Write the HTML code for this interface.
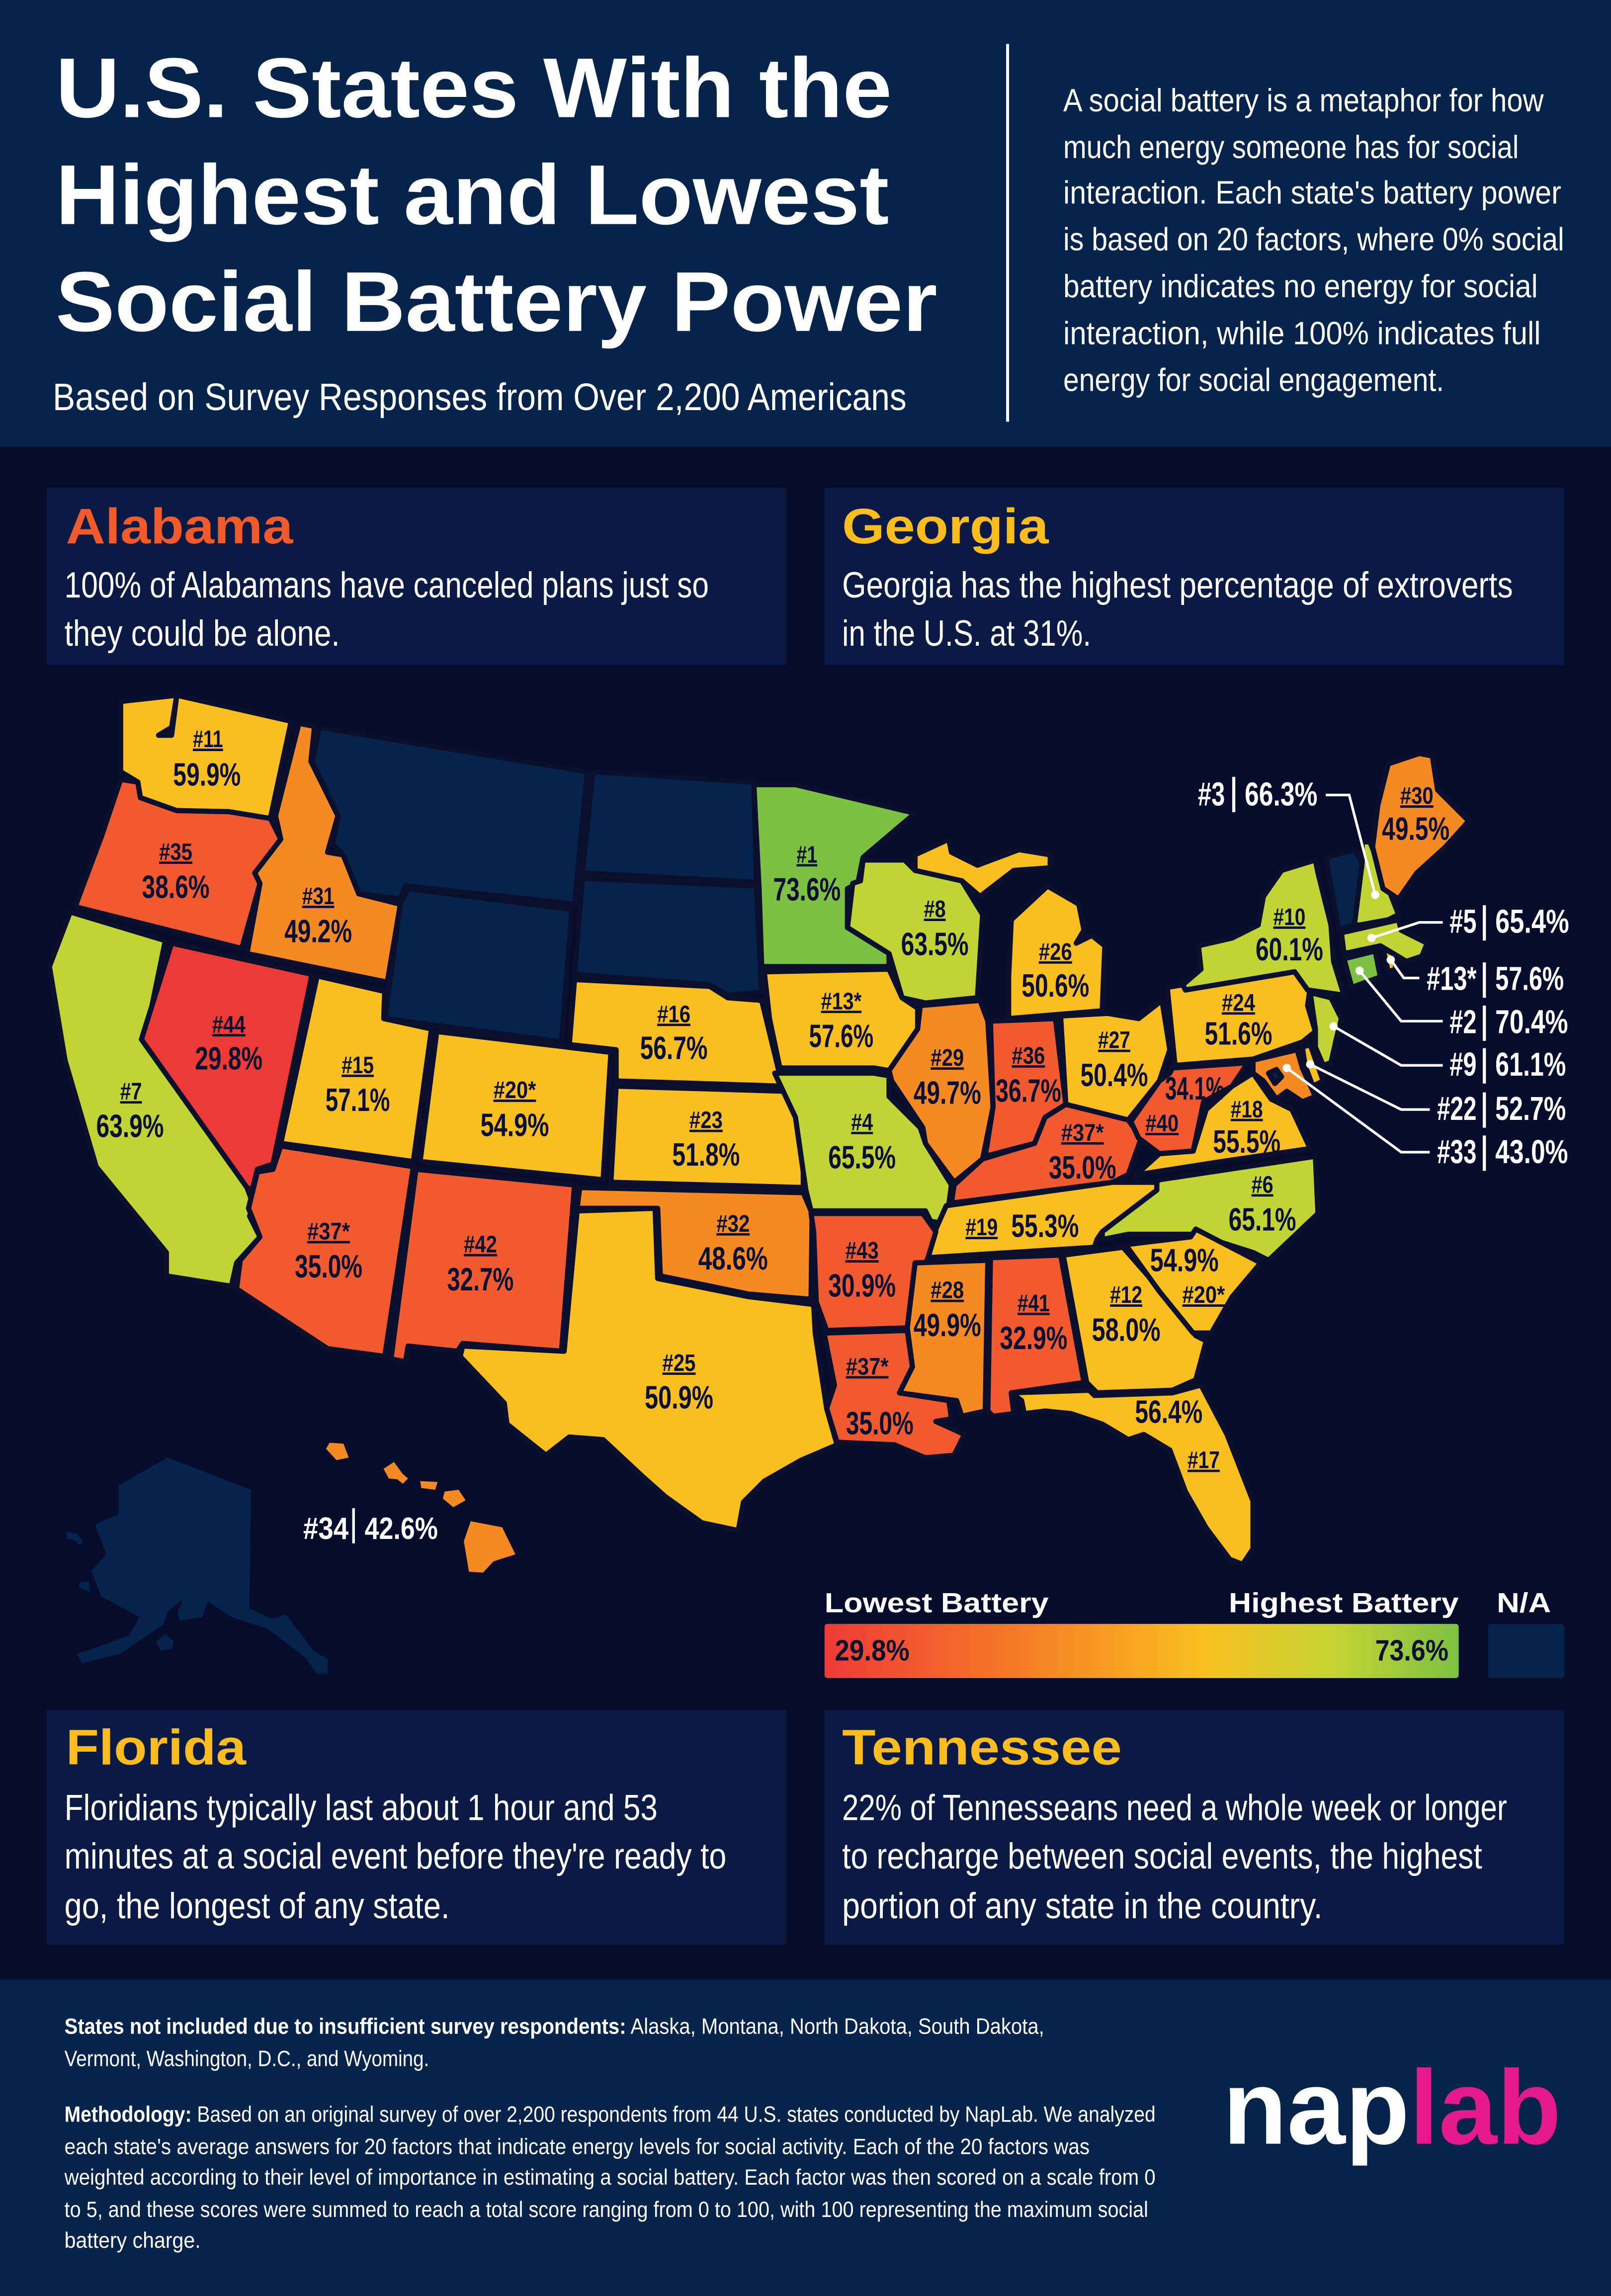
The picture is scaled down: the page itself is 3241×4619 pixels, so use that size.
<!DOCTYPE html>
<html><head><meta charset="utf-8"><style>
html,body{margin:0;padding:0;background:#050c2c;}
svg{display:block;}
.c{font-family:"Liberation Sans Narrow","Liberation Sans",sans-serif;}
.b{font-family:"Liberation Sans",sans-serif;font-weight:bold;}
.st polygon{stroke:#0a0f2b;stroke-width:10;stroke-linejoin:round;}
.lb{font-family:"Liberation Sans Narrow","Liberation Sans",sans-serif;font-weight:bold;fill:#0b1030;text-anchor:middle;}
.rk{font-size:46px;text-decoration:underline;}
.pc{font-size:62px;}
.wl{font-family:"Liberation Sans Narrow","Liberation Sans",sans-serif;font-weight:bold;fill:#fff;font-size:64px;}
.ln{stroke:#fff;stroke-width:5;fill:none;}
</style></head><body>
<svg width="3241" height="4619" viewBox="0 0 1100 1568" preserveAspectRatio="none" xmlns="http://www.w3.org/2000/svg">
<defs><linearGradient id="g" x1="0" x2="1" y1="0" y2="0">
<stop offset="0" stop-color="#ee3a36"/><stop offset="0.3" stop-color="#f57a26"/><stop offset="0.6" stop-color="#f9c01f"/><stop offset="0.8" stop-color="#c6d432"/><stop offset="1" stop-color="#7dc142"/></linearGradient></defs>
<rect x="0" y="0" width="1100" height="1568" fill="#050c2c"/>
<rect x="0" y="0" width="1100" height="305" fill="#05234b"/>
<text class="b" fill="#fff" font-size="58" x="38" y="80" textLength="571" lengthAdjust="spacingAndGlyphs">U.S. States With the</text>
<text class="b" fill="#fff" font-size="58" x="38" y="153" textLength="569" lengthAdjust="spacingAndGlyphs">Highest and Lowest</text>
<text class="b" fill="#fff" font-size="58" x="38" y="226" textLength="602" lengthAdjust="spacingAndGlyphs">Social Battery Power</text>
<text class="c" fill="#fff" font-size="26" x="36" y="280" textLength="583" lengthAdjust="spacingAndGlyphs">Based on Survey Responses from Over 2,200 Americans</text>
<rect x="687" y="30" width="2" height="258" fill="#fff"/>
<g class="c" fill="#fff" font-size="22">
<text x="726" y="76" textLength="328" lengthAdjust="spacingAndGlyphs">A social battery is a metaphor for how</text>
<text x="726" y="108" textLength="311" lengthAdjust="spacingAndGlyphs">much energy someone has for social</text>
<text x="726" y="139" textLength="340" lengthAdjust="spacingAndGlyphs">interaction. Each state's battery power</text>
<text x="726" y="171" textLength="342" lengthAdjust="spacingAndGlyphs">is based on 20 factors, where 0% social</text>
<text x="726" y="203" textLength="324" lengthAdjust="spacingAndGlyphs">battery indicates no energy for social</text>
<text x="726" y="235" textLength="326" lengthAdjust="spacingAndGlyphs">interaction, while 100% indicates full</text>
<text x="726" y="267" textLength="260" lengthAdjust="spacingAndGlyphs">energy for social engagement.</text>
</g>
<rect x="32" y="333" width="505" height="121" fill="#0b1a45"/>
<rect x="563" y="333" width="505" height="121" fill="#0b1a45"/>
<text class="b" fill="#f15a2b" font-size="34" x="45" y="371" textLength="155" lengthAdjust="spacingAndGlyphs">Alabama</text>
<text class="b" fill="#fbbd1d" font-size="34" x="575" y="371" textLength="141" lengthAdjust="spacingAndGlyphs">Georgia</text>
<g class="c" fill="#fff" font-size="25">
<text x="44" y="408" textLength="440" lengthAdjust="spacingAndGlyphs">100% of Alabamans have canceled plans just so</text>
<text x="44" y="441" textLength="188" lengthAdjust="spacingAndGlyphs">they could be alone.</text>
<text x="575" y="408" textLength="458" lengthAdjust="spacingAndGlyphs">Georgia has the highest percentage of extroverts</text>
<text x="575" y="441" textLength="170" lengthAdjust="spacingAndGlyphs">in the U.S. at 31%.</text>
</g>

<!-- Alaska & Hawaii -->
<polygon fill="#05234b" points="114.3,995.4 171.4,1017.4 170.2,1098.4 185.7,1105.6 195.2,1102.6 214.3,1127.6 223.8,1133 223.8,1143.1 216.7,1143.1 208.3,1131.8 183.3,1112.7 158.3,1104.4 141.7,1093.6 138.1,1104.4 122.6,1106.7 121.4,1100.8 125,1091.9 114.3,1100.8 111.9,1109.1 82.1,1129.4 56,1135.9 52.4,1129.4 64.3,1125.8 88.1,1116.9 95.2,1104.4 69,1090.1 62.4,1072.8 72.6,1061.5 64.8,1041.2 81,1034.1 81,1014.4"/>
<polygon fill="#05234b" points="45.5,1046 52.5,1047.5 57,1053 54,1055 50.5,1051.5 45.5,1051"/>
<polygon fill="#05234b" points="54,1081 60.5,1080 61.5,1087 58,1086 54,1084"/>
<polygon fill="#05234b" points="113,1116 118.5,1121 117.5,1126 109.5,1127 106.5,1121"/>
<g fill="#f68a22">
<polygon points="321.4,1038.9 342.9,1043 351.9,1061.5 336.9,1066.3 329.8,1074 320.2,1073.4 316.7,1052.6"/>
<polygon points="303.6,1018.6 313.1,1017.4 317.9,1024.6 309.5,1029.3 302.4,1023.4"/>
<polygon points="286.9,1011.5 298.8,1012.1 297.1,1017.4 287.6,1016.2"/>
<polygon points="269,998.4 275,1006.7 278.6,1009.7 275,1013.3 271.4,1010.3 265.5,1009.7 261.9,1003.1"/>
<polygon points="225,985.3 234.5,985.9 238.1,995.4 229.8,997.2 222.6,989.4"/>
</g>
<text class="wl" style="font-size:21px" x="238" y="1051" text-anchor="end" textLength="31" lengthAdjust="spacingAndGlyphs">#34</text>
<rect x="240.5" y="1030" width="1.8" height="24" fill="#fff"/>
<text class="wl" style="font-size:21px" x="249" y="1051" textLength="50" lengthAdjust="spacingAndGlyphs">42.6%</text>

<g transform="translate(0,468.4) scale(0.355)">
<g class="st">
<polygon fill="#f9bf1f" points="232,30 340,18 330,80 305,95 330,95 340,18 560,68 520,255 440,242 340,240 270,215 265,185 232,165"/>
<polygon fill="#f15a2e" points="232,180 265,185 270,215 340,240 440,242 520,255 540,295 490,360 500,380 465,505 145,425 150,410 195,290"/>
<polygon fill="#f68a22" points="575,72 605,78 598,145 650,250 630,320 660,325 690,400 770,420 745,570 475,515 500,380 490,360 540,295 530,250"/>
<polygon fill="#05234b" points="615,80 1130,165 1105,420 780,385 770,410 690,400 660,325 640,305 650,250 600,145"/>
<polygon fill="#05234b" points="785,390 1100,430 1080,685 740,640 770,420"/>
<polygon fill="#05234b" points="1140,165 1450,185 1455,378 1120,360"/>
<polygon fill="#05234b" points="1120,370 1455,385 1465,590 1400,595 1365,575 1105,555"/>
<polygon fill="#c0d434" points="135,435 318,490 280,675 475,965 488,1000 480,1020 500,1060 455,1110 445,1155 320,1135 320,1090 185,925 125,720 95,540"/>
<polygon fill="#ee3a36" points="330,495 600,555 525,920 495,930 485,970 475,965 272,680"/>
<polygon fill="#f9bf1f" points="610,558 740,588 738,640 830,660 795,915 540,880"/>
<polygon fill="#f9bf1f" points="840,665 1175,705 1160,950 808,915"/>
<polygon fill="#f15a2e" points="540,885 795,925 740,1290 630,1275 455,1160 462,1105 500,1060 478,1005 495,935 525,930"/>
<polygon fill="#f15a2e" points="800,930 1105,960 1080,1280 890,1265 880,1280 785,1270 780,1300 752,1295"/>
<polygon fill="#f9bf1f" points="1105,565 1365,578 1400,600 1465,605 1505,770 1185,760 1185,700 1095,690"/>
<polygon fill="#f9bf1f" points="1185,770 1515,780 1545,835 1545,965 1175,955"/>
<polygon fill="#f68a22" points="1115,965 1545,975 1562,1015 1560,1180 1440,1170 1270,1135 1265,1005 1110,1005"/>
<polygon fill="#f9bf1f" points="1110,1010 1260,1005 1265,1140 1440,1175 1565,1190 1568,1245 1590,1390 1610,1460 1540,1490 1470,1530 1430,1570 1420,1625 1350,1610 1280,1560 1235,1520 1160,1450 1095,1445 1050,1480 975,1420 970,1380 885,1290 890,1270 1085,1280"/>
<polygon fill="#7dc142" points="1450,190 1530,190 1760,245 1660,330 1650,380 1630,390 1630,465 1710,510 1710,540 1465,540 1460,390"/>
<polygon fill="#c0d434" points="1660,335 1740,335 1760,355 1850,375 1890,440 1880,600 1780,610 1735,600 1710,515 1630,465 1640,380 1655,375"/>
<polygon fill="#f9bf1f" points="1760,325 1825,295 1830,320 1880,345 1960,315 2020,325 2020,350 1950,355 1885,405 1850,375 1760,355"/>
<polygon fill="#f9bf1f" points="1945,450 2015,385 2075,420 2085,470 2070,495 2100,480 2125,500 2120,625 1940,640 1940,560"/>
<polygon fill="#f9bf1f" points="1470,550 1710,545 1735,600 1765,620 1765,660 1710,740 1680,735 1500,735 1480,640"/>
<polygon fill="#f68a22" points="1770,615 1885,605 1900,645 1910,810 1890,910 1835,955 1780,880 1775,850 1715,760 1710,740 1765,660"/>
<polygon fill="#f15a2e" points="1905,645 2030,640 2050,805 2010,830 1990,880 1895,905 1910,810"/>
<polygon fill="#f9bf1f" points="2040,635 2130,630 2190,640 2235,605 2250,700 2230,760 2170,835 2050,805"/>
<polygon fill="#c0d434" points="1490,745 1680,745 1710,750 1710,790 1770,850 1780,880 1830,960 1820,1035 1790,1030 1780,1010 1560,1010 1550,970 1530,830"/>
<polygon fill="#f15a2e" points="1835,960 1890,910 1990,880 2010,830 2050,805 2170,835 2195,870 2170,940 2140,955 1830,995"/>
<polygon fill="#f15a2e" points="2175,838 2230,760 2250,745 2255,735 2400,725 2370,770 2315,800 2295,895 2230,900 2190,870"/>
<polygon fill="#f9bf1f" points="2180,945 2230,900 2295,895 2320,815 2370,770 2410,745 2445,795 2485,815 2520,890 2350,915 2190,940"/>
<polygon fill="#f9bf1f" points="2245,580 2275,575 2280,585 2490,550 2520,580 2515,615 2530,665 2505,685 2410,718 2260,730"/>
<polygon fill="#c0d434" points="2275,575 2310,545 2305,500 2370,485 2420,460 2430,405 2465,355 2530,335 2535,360 2560,460 2565,530 2585,595 2515,585 2490,550 2280,585"/>
<polygon fill="#05234b" points="2550,330 2605,315 2620,340 2605,460 2575,470"/>
<polygon fill="#c0d434" points="2620,300 2635,300 2690,440 2670,450 2615,460 2605,460 2620,340"/>
<polygon fill="#f68a22" points="2650,230 2670,150 2730,130 2755,135 2765,200 2825,260 2780,310 2725,360 2690,410 2660,390 2640,310"/>
<polygon fill="#c0d434" points="2580,475 2690,450 2695,470 2745,495 2735,520 2705,530 2655,500 2585,515"/>
<polygon fill="#7dc142" points="2585,525 2645,510 2655,560 2600,580"/>
<polygon fill="#f9bf1f" points="2660,505 2680,515 2685,545 2670,550"/>
<polygon fill="#c0d434" points="2520,590 2560,600 2580,640 2570,680 2560,725 2545,730 2530,695 2530,660 2525,625"/>
<polygon fill="#f9bf1f" points="2505,695 2520,690 2545,760 2525,770 2510,730"/>
<polygon fill="#f68a22" points="2410,720 2495,700 2505,735 2530,790 2505,800 2475,780 2455,795 2430,760 2410,745"/>
<polygon fill="#05234b" points="2440,745 2455,738 2465,752 2452,765"/>
<polygon fill="#c0d434" points="2230,950 2530,905 2535,1015 2440,1105 2410,1090 2300,1055 2170,1055 2120,1065 2120,1050"/>
<polygon fill="#f9bf1f" points="1820,1000 2140,955 2225,955 2225,970 2120,1050 2110,1065 2105,1080 1785,1100 1800,1045"/>
<polygon fill="#f15a2e" points="1560,1015 1775,1015 1800,1050 1785,1100 1760,1160 1745,1235 1590,1240 1570,1185 1565,1050"/>
<polygon fill="#f15a2e" points="1585,1245 1745,1240 1755,1310 1730,1360 1825,1375 1830,1410 1800,1415 1855,1440 1835,1480 1780,1485 1720,1460 1610,1455 1590,1390 1605,1345"/>
<polygon fill="#f68a22" points="1760,1110 1900,1105 1895,1395 1850,1405 1840,1375 1730,1360 1755,1310 1745,1235"/>
<polygon fill="#f15a2e" points="1905,1100 2040,1095 2085,1340 1945,1360 1950,1400 1910,1405 1900,1395"/>
<polygon fill="#f9bf1f" points="2045,1095 2160,1080 2230,1160 2300,1250 2320,1260 2300,1335 2255,1355 2110,1360 2090,1340"/>
<polygon fill="#f9bf1f" points="2165,1075 2290,1060 2300,1045 2425,1110 2370,1175 2330,1245 2295,1245 2230,1165"/>
<polygon fill="#f9bf1f" points="1945,1360 2095,1355 2105,1365 2255,1360 2310,1345 2360,1440 2410,1568 2410,1660 2390,1690 2365,1680 2320,1620 2280,1550 2250,1470 2200,1440 2170,1450 2120,1420 2060,1400 2010,1395 1970,1400 1965,1375"/>
</g>
<g class="lb" lengthAdjust="spacingAndGlyphs">
<text class="rk" x="400" y="118" textLength="58" lengthAdjust="spacingAndGlyphs">#11</text><text class="pc" x="398" y="192" textLength="130" lengthAdjust="spacingAndGlyphs">59.9%</text>
<text class="rk" x="338" y="335" textLength="64" lengthAdjust="spacingAndGlyphs">#35</text><text class="pc" x="338" y="408" textLength="130" lengthAdjust="spacingAndGlyphs">38.6%</text>
<text class="rk" x="612" y="420" textLength="62" lengthAdjust="spacingAndGlyphs">#31</text><text class="pc" x="612" y="493" textLength="130" lengthAdjust="spacingAndGlyphs">49.2%</text>
<text class="rk" x="252" y="796" textLength="42" lengthAdjust="spacingAndGlyphs">#7</text><text class="pc" x="250" y="868" textLength="130" lengthAdjust="spacingAndGlyphs">63.9%</text>
<text class="rk" x="440" y="667" textLength="64" lengthAdjust="spacingAndGlyphs">#44</text><text class="pc" x="440" y="738" textLength="130" lengthAdjust="spacingAndGlyphs">29.8%</text>
<text class="rk" x="688" y="745" textLength="62" lengthAdjust="spacingAndGlyphs">#15</text><text class="pc" x="688" y="818" textLength="124" lengthAdjust="spacingAndGlyphs">57.1%</text>
<text class="rk" x="990" y="793" textLength="82" lengthAdjust="spacingAndGlyphs">#20*</text><text class="pc" x="990" y="866" textLength="132" lengthAdjust="spacingAndGlyphs">54.9%</text>
<text class="rk" x="632" y="1065" textLength="82" lengthAdjust="spacingAndGlyphs">#37*</text><text class="pc" x="632" y="1138" textLength="130" lengthAdjust="spacingAndGlyphs">35.0%</text>
<text class="rk" x="924" y="1090" textLength="64" lengthAdjust="spacingAndGlyphs">#42</text><text class="pc" x="924" y="1163" textLength="128" lengthAdjust="spacingAndGlyphs">32.7%</text>
<text class="rk" x="1296" y="647" textLength="64" lengthAdjust="spacingAndGlyphs">#16</text><text class="pc" x="1296" y="718" textLength="130" lengthAdjust="spacingAndGlyphs">56.7%</text>
<text class="rk" x="1358" y="851" textLength="64" lengthAdjust="spacingAndGlyphs">#23</text><text class="pc" x="1358" y="923" textLength="130" lengthAdjust="spacingAndGlyphs">51.8%</text>
<text class="rk" x="1410" y="1050" textLength="64" lengthAdjust="spacingAndGlyphs">#32</text><text class="pc" x="1410" y="1123" textLength="134" lengthAdjust="spacingAndGlyphs">48.6%</text>
<text class="rk" x="1306" y="1318" textLength="64" lengthAdjust="spacingAndGlyphs">#25</text><text class="pc" x="1306" y="1390" textLength="132" lengthAdjust="spacingAndGlyphs">50.9%</text>
<text class="rk" x="1552" y="340" textLength="40" lengthAdjust="spacingAndGlyphs">#1</text><text class="pc" x="1552" y="413" textLength="130" lengthAdjust="spacingAndGlyphs">73.6%</text>
<text class="rk" x="1798" y="445" textLength="42" lengthAdjust="spacingAndGlyphs">#8</text><text class="pc" x="1798" y="518" textLength="130" lengthAdjust="spacingAndGlyphs">63.5%</text>
<text class="rk" x="2030" y="527" textLength="64" lengthAdjust="spacingAndGlyphs">#26</text><text class="pc" x="2030" y="598" textLength="130" lengthAdjust="spacingAndGlyphs">50.6%</text>
<text class="rk" x="1618" y="622" textLength="78" lengthAdjust="spacingAndGlyphs">#13*</text><text class="pc" x="1618" y="695" textLength="124" lengthAdjust="spacingAndGlyphs">57.6%</text>
<text class="rk" x="1822" y="731" textLength="64" lengthAdjust="spacingAndGlyphs">#29</text><text class="pc" x="1822" y="804" textLength="130" lengthAdjust="spacingAndGlyphs">49.7%</text>
<text class="rk" x="1978" y="727" textLength="64" lengthAdjust="spacingAndGlyphs">#36</text><text class="pc" x="1978" y="800" textLength="126" lengthAdjust="spacingAndGlyphs">36.7%</text>
<text class="rk" x="2143" y="697" textLength="62" lengthAdjust="spacingAndGlyphs">#27</text><text class="pc" x="2143" y="770" textLength="130" lengthAdjust="spacingAndGlyphs">50.4%</text>
<text class="rk" x="1658" y="855" textLength="42" lengthAdjust="spacingAndGlyphs">#4</text><text class="pc" x="1658" y="928" textLength="130" lengthAdjust="spacingAndGlyphs">65.5%</text>
<text class="rk" x="2082" y="875" textLength="82" lengthAdjust="spacingAndGlyphs">#37*</text><text class="pc" x="2082" y="948" textLength="130" lengthAdjust="spacingAndGlyphs">35.0%</text>
<text class="pc" x="2298" y="796" textLength="114" lengthAdjust="spacingAndGlyphs">34.1%</text><text class="rk" x="2235" y="857" textLength="64" lengthAdjust="spacingAndGlyphs">#40</text>
<text class="rk" x="2398" y="830" textLength="62" lengthAdjust="spacingAndGlyphs">#18</text><text class="pc" x="2398" y="898" textLength="130" lengthAdjust="spacingAndGlyphs">55.5%</text>
<text class="rk" x="2382" y="625" textLength="64" lengthAdjust="spacingAndGlyphs">#24</text><text class="pc" x="2382" y="690" textLength="130" lengthAdjust="spacingAndGlyphs">51.6%</text>
<text class="rk" x="2480" y="460" textLength="62" lengthAdjust="spacingAndGlyphs">#10</text><text class="pc" x="2480" y="528" textLength="130" lengthAdjust="spacingAndGlyphs">60.1%</text>
<text class="rk" x="2725" y="227" textLength="64" lengthAdjust="spacingAndGlyphs">#30</text><text class="pc" x="2723" y="296" textLength="130" lengthAdjust="spacingAndGlyphs">49.5%</text>
<text class="rk" x="2428" y="975" textLength="42" lengthAdjust="spacingAndGlyphs">#6</text><text class="pc" x="2428" y="1048" textLength="130" lengthAdjust="spacingAndGlyphs">65.1%</text>
<text class="rk" x="1888" y="1057" textLength="62" lengthAdjust="spacingAndGlyphs">#19</text><text class="pc" x="2010" y="1060" textLength="130" lengthAdjust="spacingAndGlyphs">55.3%</text>
<text class="rk" x="1658" y="1102" textLength="64" lengthAdjust="spacingAndGlyphs">#43</text><text class="pc" x="1658" y="1175" textLength="130" lengthAdjust="spacingAndGlyphs">30.9%</text>
<text class="rk" x="1822" y="1178" textLength="64" lengthAdjust="spacingAndGlyphs">#28</text><text class="pc" x="1822" y="1251" textLength="130" lengthAdjust="spacingAndGlyphs">49.9%</text>
<text class="rk" x="1988" y="1203" textLength="62" lengthAdjust="spacingAndGlyphs">#41</text><text class="pc" x="1988" y="1276" textLength="130" lengthAdjust="spacingAndGlyphs">32.9%</text>
<text class="rk" x="2166" y="1187" textLength="62" lengthAdjust="spacingAndGlyphs">#12</text><text class="pc" x="2166" y="1260" textLength="132" lengthAdjust="spacingAndGlyphs">58.0%</text>
<text class="pc" x="2278" y="1126" textLength="132" lengthAdjust="spacingAndGlyphs">54.9%</text><text class="rk" x="2315" y="1187" textLength="82" lengthAdjust="spacingAndGlyphs">#20*</text>
<text class="rk" x="1668" y="1325" textLength="82" lengthAdjust="spacingAndGlyphs">#37*</text><text class="pc" x="1692" y="1440" textLength="130" lengthAdjust="spacingAndGlyphs">35.0%</text>
<text class="pc" x="2248" y="1418" textLength="130" lengthAdjust="spacingAndGlyphs">56.4%</text><text class="rk" x="2315" y="1505" textLength="62" lengthAdjust="spacingAndGlyphs">#17</text>
</g>
<g>
<polyline class="ln" points="2550,210 2595,210 2645,402"/><circle cx="2645" cy="402" r="8" fill="#fff"/>
<polyline class="ln" points="2638,485 2730,455 2775,455"/><circle cx="2638" cy="485" r="8" fill="#fff"/>
<polyline class="ln" points="2675,527 2700,562 2730,562"/><circle cx="2675" cy="527" r="8" fill="#fff"/>
<polyline class="ln" points="2615,548 2695,645 2775,645"/><circle cx="2615" cy="548" r="8" fill="#fff"/>
<polyline class="ln" points="2565,655 2695,730 2775,730"/><circle cx="2565" cy="655" r="8" fill="#fff"/>
<polyline class="ln" points="2520,728 2695,815 2750,815"/><circle cx="2520" cy="728" r="8" fill="#fff"/>
<polyline class="ln" points="2475,735 2695,897 2750,897"/><circle cx="2475" cy="735" r="8" fill="#fff"/>
<text class="wl" x="2356" y="230" text-anchor="end" textLength="52" lengthAdjust="spacingAndGlyphs">#3</text><rect x="2370" y="175" width="6" height="68" fill="#fff"/><text class="wl" x="2394" y="230" textLength="140" lengthAdjust="spacingAndGlyphs">66.3%</text>
<text class="wl" x="2840" y="475" text-anchor="end" textLength="52" lengthAdjust="spacingAndGlyphs">#5</text><rect x="2852" y="422" width="6" height="68" fill="#fff"/><text class="wl" x="2876" y="475" textLength="142" lengthAdjust="spacingAndGlyphs">65.4%</text>
<text class="wl" x="2840" y="585" text-anchor="end" textLength="96" lengthAdjust="spacingAndGlyphs">#13*</text><rect x="2852" y="532" width="6" height="68" fill="#fff"/><text class="wl" x="2876" y="585" textLength="132" lengthAdjust="spacingAndGlyphs">57.6%</text>
<text class="wl" x="2840" y="668" text-anchor="end" textLength="52" lengthAdjust="spacingAndGlyphs">#2</text><rect x="2852" y="615" width="6" height="68" fill="#fff"/><text class="wl" x="2876" y="668" textLength="140" lengthAdjust="spacingAndGlyphs">70.4%</text>
<text class="wl" x="2840" y="750" text-anchor="end" textLength="52" lengthAdjust="spacingAndGlyphs">#9</text><rect x="2852" y="697" width="6" height="68" fill="#fff"/><text class="wl" x="2876" y="750" textLength="136" lengthAdjust="spacingAndGlyphs">61.1%</text>
<text class="wl" x="2840" y="835" text-anchor="end" textLength="76" lengthAdjust="spacingAndGlyphs">#22</text><rect x="2852" y="782" width="6" height="68" fill="#fff"/><text class="wl" x="2876" y="835" textLength="136" lengthAdjust="spacingAndGlyphs">52.7%</text>
<text class="wl" x="2840" y="918" text-anchor="end" textLength="76" lengthAdjust="spacingAndGlyphs">#33</text><rect x="2852" y="865" width="6" height="68" fill="#fff"/><text class="wl" x="2876" y="918" textLength="140" lengthAdjust="spacingAndGlyphs">43.0%</text>
</g>
</g>

<!-- legend -->
<text class="b" fill="#fff" font-size="19" x="563" y="1101" textLength="153" lengthAdjust="spacingAndGlyphs">Lowest Battery</text>
<text class="b" fill="#fff" font-size="19" x="839" y="1101" textLength="157" lengthAdjust="spacingAndGlyphs">Highest Battery</text>
<text class="b" fill="#fff" font-size="19" x="1022" y="1101" textLength="37" lengthAdjust="spacingAndGlyphs">N/A</text>
<rect x="563" y="1109" width="433" height="37" rx="2" fill="url(#g)"/>
<rect x="1016" y="1109" width="52" height="37" rx="2" fill="#05234b"/>
<text class="c" font-weight="bold" fill="#0b1030" font-size="20" x="570" y="1134" textLength="51" lengthAdjust="spacingAndGlyphs">29.8%</text>
<text class="c" font-weight="bold" fill="#0b1030" font-size="20" x="939" y="1134" textLength="50" lengthAdjust="spacingAndGlyphs">73.6%</text>

<rect x="32" y="1168" width="505" height="160" fill="#0b1a45"/>
<rect x="563" y="1168" width="505" height="160" fill="#0b1a45"/>
<text class="b" fill="#fbbd1d" font-size="34" x="45" y="1205" textLength="123" lengthAdjust="spacingAndGlyphs">Florida</text>
<text class="b" fill="#fbbd1d" font-size="34" x="575" y="1205" textLength="191" lengthAdjust="spacingAndGlyphs">Tennessee</text>
<g class="c" fill="#fff" font-size="25">
<text x="44" y="1243" textLength="405" lengthAdjust="spacingAndGlyphs">Floridians typically last about 1 hour and 53</text>
<text x="44" y="1276" textLength="452" lengthAdjust="spacingAndGlyphs">minutes at a social event before they're ready to</text>
<text x="44" y="1310" textLength="263" lengthAdjust="spacingAndGlyphs">go, the longest of any state.</text>
<text x="575" y="1243" textLength="454" lengthAdjust="spacingAndGlyphs">22% of Tennesseans need a whole week or longer</text>
<text x="575" y="1276" textLength="437" lengthAdjust="spacingAndGlyphs">to recharge between social events, the highest</text>
<text x="575" y="1310" textLength="328" lengthAdjust="spacingAndGlyphs">portion of any state in the country.</text>
</g>

<rect x="0" y="1352" width="1100" height="216" fill="#05234b"/>
<g class="c" fill="#fff" font-size="15">
<text x="44" y="1389" textLength="669" lengthAdjust="spacingAndGlyphs"><tspan font-weight="bold">States not included due to insufficient survey respondents:</tspan> Alaska, Montana, North Dakota, South Dakota,</text>
<text x="44" y="1411" textLength="249" lengthAdjust="spacingAndGlyphs">Vermont, Washington, D.C., and Wyoming.</text>
<text x="44" y="1449" textLength="745" lengthAdjust="spacingAndGlyphs"><tspan font-weight="bold">Methodology:</tspan> Based on an original survey of over 2,200 respondents from 44 U.S. states conducted by NapLab. We analyzed</text>
<text x="44" y="1471" textLength="700" lengthAdjust="spacingAndGlyphs">each state's average answers for 20 factors that indicate energy levels for social activity. Each of the 20 factors was</text>
<text x="44" y="1492" textLength="745" lengthAdjust="spacingAndGlyphs">weighted according to their level of importance in estimating a social battery. Each factor was then scored on a scale from 0</text>
<text x="44" y="1514" textLength="740" lengthAdjust="spacingAndGlyphs">to 5, and these scores were summed to reach a total score ranging from 0 to 100, with 100 representing the maximum social</text>
<text x="44" y="1535" textLength="93" lengthAdjust="spacingAndGlyphs">battery charge.</text>
</g>
<text class="b" font-size="72" x="835" y="1464" textLength="231" lengthAdjust="spacingAndGlyphs"><tspan fill="#fff">nap</tspan><tspan fill="#e5198a">lab</tspan></text>
</svg>
</body></html>
